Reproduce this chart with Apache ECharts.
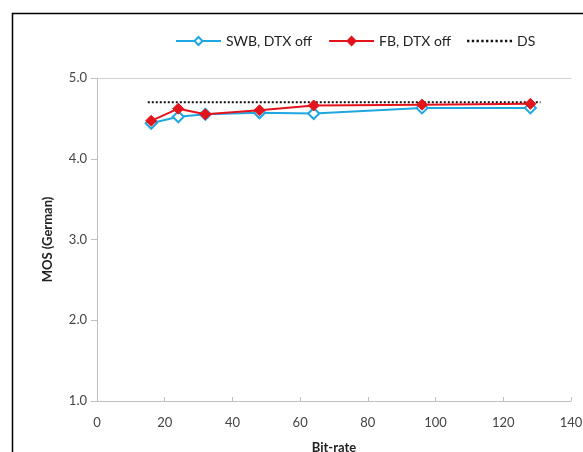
<!DOCTYPE html>
<html><head><meta charset="utf-8">
<script src="https://cdn.jsdelivr.net/npm/echarts@6/dist/echarts.min.js"></script>
<style>html,body{margin:0;padding:0;background:#fff}#c{width:583px;height:452px}</style>
</head><body><div id="c"></div>
<script>
const bitrates = [16, 24, 32, 48, 64, 96, 128];
const swbDtxOff = [4.44, 4.52, 4.55, 4.57, 4.56, 4.63, 4.63];
const fbDtxOff = [4.47, 4.62, 4.55, 4.60, 4.66, 4.67, 4.68];
const dsX = [15, 131];
const dsValue = [4.70, 4.70];
const seriesNames = ['SWB, DTX off', 'FB, DTX off', 'DS'];

const FONT = 'Lato';
let dotPath = '';
for (let i = 0; i < 10; i++) { const x = i * 4; dotPath += 'M' + x + ',0 L' + (x + 2) + ',0 L' + (x + 2) + ',2 L' + x + ',2 Z '; }
const chart = echarts.init(document.getElementById('c'), null, {renderer: 'canvas'});
chart.setOption({
  animation: false,
  backgroundColor: '#fff',
  textStyle: {fontFamily: FONT},
  graphic: [{type: 'rect', shape: {x: 12.5, y: 13.5, width: 700, height: 600}, style: {fill: 'none', stroke: '#000', lineWidth: 1.5}, silent: true}],
  legend: {
    top: 29, left: 170, itemGap: 16, itemWidth: 45, itemHeight: 10,
    textStyle: {fontFamily: FONT, fontSize: 14, color: '#222'},
    data: [
      {name: seriesNames[0]},
      {name: seriesNames[1]},
      {name: seriesNames[2], icon: 'path://' + dotPath, itemStyle: {color: '#111'}}
    ]
  },
  grid: {left: 97, right: 12, top: 78, bottom: 51, containLabel: false, outerBoundsMode: 'none'},
  xAxis: [{
    type: 'value', min: 0, max: 140, interval: 20,
    name: 'Bit-rate', nameLocation: 'middle', nameGap: 40,
    nameTextStyle: {fontFamily: FONT, fontWeight: 'bold', fontSize: 13, color: '#222'},
    axisLine: {show: true, lineStyle: {color: '#bfbfbf', width: 1}},
    axisTick: {show: true, inside: true, length: 4, lineStyle: {color: '#bfbfbf'}},
    axisLabel: {fontFamily: FONT, fontSize: 13, color: '#444', margin: 15},
    splitLine: {show: false}
  }, {
    type: 'value', min: 0, max: 140, position: 'top',
    axisLine: {show: true, onZero: false, lineStyle: {color: '#d0d0d0', width: 1}},
    axisTick: {show: false}, axisLabel: {show: false}, splitLine: {show: false}
  }],
  yAxis: {
    type: 'value', min: 1, max: 5, interval: 1,
    name: 'MOS (German)', nameLocation: 'middle', nameGap: 43,
    nameTextStyle: {fontFamily: FONT, fontWeight: 'bold', fontSize: 13, color: '#222'},
    axisLine: {show: true, lineStyle: {color: '#bfbfbf', width: 1}},
    axisTick: {show: true, length: 6, lineStyle: {color: '#bfbfbf'}},
    axisLabel: {fontFamily: FONT, fontSize: 13, color: '#444', margin: 10, formatter: v => v.toFixed(1)},
    splitLine: {show: false}
  },
  series: [
    {
      name: seriesNames[0], type: 'line', xAxisIndex: 0,
      data: bitrates.map((x, i) => [x, swbDtxOff[i]]),
      symbol: 'diamond', symbolSize: 11,
      lineStyle: {color: '#1ea7e1', width: 2},
      itemStyle: {color: '#fff', borderColor: '#1ea7e1', borderWidth: 2},
      z: 2
    },
    {
      name: seriesNames[1], type: 'line', xAxisIndex: 0,
      data: bitrates.map((x, i) => [x, fbDtxOff[i]]),
      symbol: 'diamond', symbolSize: 11,
      lineStyle: {color: '#e3141c', width: 2},
      itemStyle: {color: '#e3141c', borderColor: '#e3141c', borderWidth: 1},
      z: 3
    },
    {
      name: seriesNames[2], type: 'line', xAxisIndex: 0,
      data: dsX.map((x, i) => [x, dsValue[i]]),
      symbol: 'none',
      lineStyle: {color: '#111', width: 2, type: [2, 2]},
      itemStyle: {color: '#111'},
      z: 1
    }
  ]
});
</script></body></html>
